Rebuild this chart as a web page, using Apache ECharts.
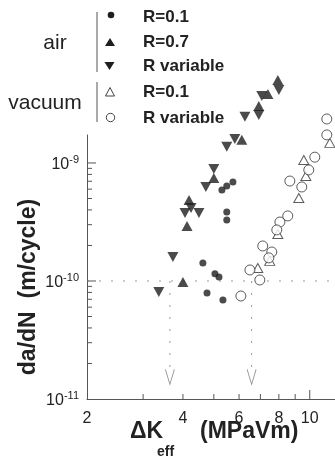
<!DOCTYPE html>
<html>
<head>
<meta charset="utf-8">
<script src="https://cdn.jsdelivr.net/npm/echarts@6/dist/echarts.min.js"></script>
<style>html,body{margin:0;padding:0;background:#fff}#c{width:335px;height:466px}</style>
</head>
<body>
<div id="c"></div>
<script>
// ---- data (ΔKeff in MPa√m, da/dN in m/cycle) ----
const airR01 = [[5.30,5.90e-10],[5.49,6.38e-10],[5.74,6.90e-10],[5.49,3.85e-10],[5.49,3.29e-10],
  [4.62,1.42e-10],[5.04,1.15e-10],[5.19,1.08e-10],[4.76,7.91e-11],[5.34,6.90e-11]];
const airR07 = [[7.94,5.05e-9],[7.39,3.85e-9],[6.92,3.04e-9],[6.12,1.57e-9],[5.00,7.46e-10],
  [4.18,4.86e-10],[4.12,2.92e-10],[4.00,9.8e-11]];
const airRvar = [[8.00,4.16e-9],[7.07,3.70e-9],[6.92,2.55e-9],[6.26,2.46e-9],[5.82,1.60e-9],
  [5.49,1.37e-9],[5.00,8.9e-10],[4.72,6.26e-10],[4.24,4.16e-10],[4.06,3.77e-10],[4.49,3.77e-10],
  [3.72,1.60e-10],[3.36,8.07e-11]];
const vacR01 = [[11.56,1.48e-9],[9.58,1.06e-9],[9.72,7.76e-10],[9.24,5.05e-10],[7.94,2.50e-10],
  [7.49,1.48e-10],[6.87,1.29e-10]];
const vacRvar = [[11.31,2.36e-9],[11.31,1.73e-9],[10.37,1.12e-9],[9.93,8.73e-10],[8.66,7.03e-10],
  [9.44,6.26e-10],[8.53,3.56e-10],[8.06,3.16e-10],[7.88,2.71e-10],[7.12,1.98e-10],[7.60,1.76e-10],
  [7.44,1.57e-10],[6.49,1.24e-10],[6.97,1.02e-10],[6.08,7.46e-11]];

// threshold guides
const thresholdRate = 1e-10;
const thresholdK = [3.64, 6.57];
const guideBottom = 1.76e-11;
const arrowLevel = 1.54e-11;

// ticks & labels
const xTickValues = [3,4,5,6,7,8,9,10];
const xMajorTicks = [10];
const xTickLabels = [2,4,6,8,10];
const yTickValues = [2e-11,3e-11,4e-11,5e-11,6e-11,7e-11,8e-11,9e-11,1e-10,
  2e-10,3e-10,4e-10,5e-10,6e-10,7e-10,8e-10,9e-10,1e-9];
const yMajorTicks = [1e-10,1e-9];
const yLabelExponents = [-11,-10,-9];

const xMin = 2, xMax = 12, yMin = 1e-11, yMax = 1.726e-9;

const FONT = 'Liberation Sans, Arial, Helvetica, sans-serif';
const INK = '#1e1e1e';
const AXIS = '#555';

const chart = echarts.init(document.getElementById('c'), null, {renderer:'canvas'});

function scatter(name, data, symbol, size, rotate, filled) {
  return {
    type:'scatter', name, data, symbol, symbolSize:size, symbolRotate:rotate||0,
    clip:false, silent:true, z:5,
    itemStyle: filled ? {color:INK} : {color:'#fff', borderColor:'#333', borderWidth:1},
    emphasis:{disabled:true}
  };
}

const series = [
  {type:'line', data:[[xMin,thresholdRate],[xMax,thresholdRate]], symbol:'none', silent:true, clip:false,
   lineStyle:{type:[2,10], color:'#999', width:1}, z:2},
  ...thresholdK.map(k => ({type:'line', data:[[k,thresholdRate],[k,guideBottom]], symbol:'none', silent:true, clip:false,
   lineStyle:{type:[2,10], color:'#999', width:1}, z:2})),
  {type:'scatter', data: thresholdK.map(k => [k, arrowLevel]), symbol:'path://M0,0 L5,15 L10,0',
   symbolSize:[9,15], silent:true, clip:false,
   itemStyle:{color:'transparent', borderColor:'#777', borderWidth:1}, z:2},
  // x ticks
  {type:'custom', silent:true, clip:false, z:3, data: xTickValues.map(v => [v, yMin]),
   renderItem:(params, api) => {
     const v = api.value(0);
     const p = api.coord([v, api.value(1)]);
     const len = xMajorTicks.includes(v) ? 9 : 5;
     return {type:'line', shape:{x1:p[0], y1:p[1], x2:p[0], y2:p[1]-len}, style:{stroke:AXIS, lineWidth:1}};
   }},
  // x labels
  {type:'custom', silent:true, clip:false, z:3, data: xTickLabels.map(v => [v, yMin]),
   renderItem:(params, api) => {
     const v = api.value(0);
     const p = api.coord([v, api.value(1)]);
     return {type:'text', x:p[0], y:p[1]+20, style:{text:String(v), fill:'#222', fontSize:16, fontFamily:FONT,
       align:'center', verticalAlign:'middle', textAlign:'center', textVerticalAlign:'middle'}};
   }},
  // y ticks
  {type:'custom', silent:true, clip:false, z:3, data: yTickValues.map(v => [xMin, v]),
   renderItem:(params, api) => {
     const v = api.value(1);
     const p = api.coord([api.value(0), v]);
     const len = yMajorTicks.some(m => Math.abs(m - v) / m < 1e-6) ? 9 : 5;
     return {type:'line', shape:{x1:p[0], y1:p[1], x2:p[0]+len, y2:p[1]}, style:{stroke:AXIS, lineWidth:1}};
   }},
  // y labels
  {type:'custom', silent:true, clip:false, z:3, data: yLabelExponents.map(e => [xMin, Math.pow(10, e)]),
   renderItem:(params, api) => {
     const v = api.value(1);
     const p = api.coord([api.value(0), v]);
     const e = Math.round(Math.log10(v));
     return {type:'text', x:p[0]-8, y:p[1]+2, style:{
       text:'{b|10}{s|' + e + '}', fill:'#222',
       align:'right', verticalAlign:'middle', textAlign:'right', textVerticalAlign:'middle',
       rich:{ b:{fontSize:16, fontFamily:FONT, fill:'#222'},
              s:{fontSize:11, fontFamily:FONT, fill:'#222', padding:[0,0,10,0]} }
     }};
   }},
  scatter('vacuum R=0.1', vacR01, 'triangle', [10,9], 0, false),
  scatter('vacuum R variable', vacRvar, 'circle', 10, 0, false),
  scatter('air R=0.1', airR01, 'circle', 7, 0, true),
  scatter('air R=0.7', airR07, 'triangle', [11,10], 0, true),
  scatter('air R variable', airRvar, 'triangle', [11,10], 180, true)
];

function txt(x, y, text, size, weight, align, extra) {
  return Object.assign({type:'text', x, y, silent:true, style:{text, fill:'#222', fontSize:size, fontFamily:FONT,
    fontWeight:weight, align:align, verticalAlign:'middle', textAlign:align, textVerticalAlign:'middle'}}, extra||{});
}

const graphic = [
  // legend
  {type:'line', shape:{x1:97, y1:12, x2:97, y2:72}, style:{stroke:'#555', lineWidth:1}, silent:true},
  {type:'line', shape:{x1:97, y1:82, x2:97, y2:122}, style:{stroke:'#555', lineWidth:1}, silent:true},
  txt(55, 43, 'air', 21, 'normal', 'center'),
  txt(45, 103, 'vacuum', 21, 'normal', 'center'),
  {type:'circle', shape:{cx:111, cy:15, r:3.3}, style:{fill:INK}, silent:true},
  {type:'polygon', shape:{points:[[105,46],[115,46],[110,38]]}, style:{fill:INK}, silent:true},
  {type:'polygon', shape:{points:[[104.5,62],[114.5,62],[109.5,70]]}, style:{fill:INK}, silent:true},
  {type:'polygon', shape:{points:[[105.5,96],[114.5,96],[110,87.5]]}, style:{fill:'#fff', stroke:'#444', lineWidth:1}, silent:true},
  {type:'circle', shape:{cx:110.5, cy:117.5, r:4.2}, style:{fill:'#fff', stroke:'#444', lineWidth:1}, silent:true},
  txt(143, 17, 'R=0.1', 17, 'bold', 'left'),
  txt(143, 42, 'R=0.7', 17, 'bold', 'left'),
  txt(143, 66, 'R variable', 17, 'bold', 'left'),
  txt(143, 92, 'R=0.1', 17, 'bold', 'left'),
  txt(143, 118, 'R variable', 17, 'bold', 'left'),
  // axis titles
  txt(29, 287, 'da/dN  (m/cycle)', 23, 'bold', 'center', {rotation:Math.PI/2}),
  txt(130, 432, 'ΔK', 23, 'bold', 'left'),
  txt(157, 452, 'eff', 14, 'bold', 'left'),
  txt(200, 432, '(MPaVm)', 23, 'bold', 'left')
];

chart.setOption({
  animation:false,
  backgroundColor:'#fff',
  grid:{left:87, right:0, top:135, bottom:67, containLabel:false},
  xAxis:{type:'log', logBase:10, min:xMin, max:xMax,
    axisLine:{show:true, onZero:false, lineStyle:{color:AXIS, width:1}},
    axisTick:{show:false}, axisLabel:{show:false}, splitLine:{show:false}, minorTick:{show:false}},
  yAxis:{type:'log', logBase:10, min:yMin, max:yMax,
    axisLine:{show:true, onZero:false, lineStyle:{color:AXIS, width:1}},
    axisTick:{show:false}, axisLabel:{show:false}, splitLine:{show:false}, minorTick:{show:false}},
  tooltip:{show:false},
  series,
  graphic
});
</script>
</body>
</html>
